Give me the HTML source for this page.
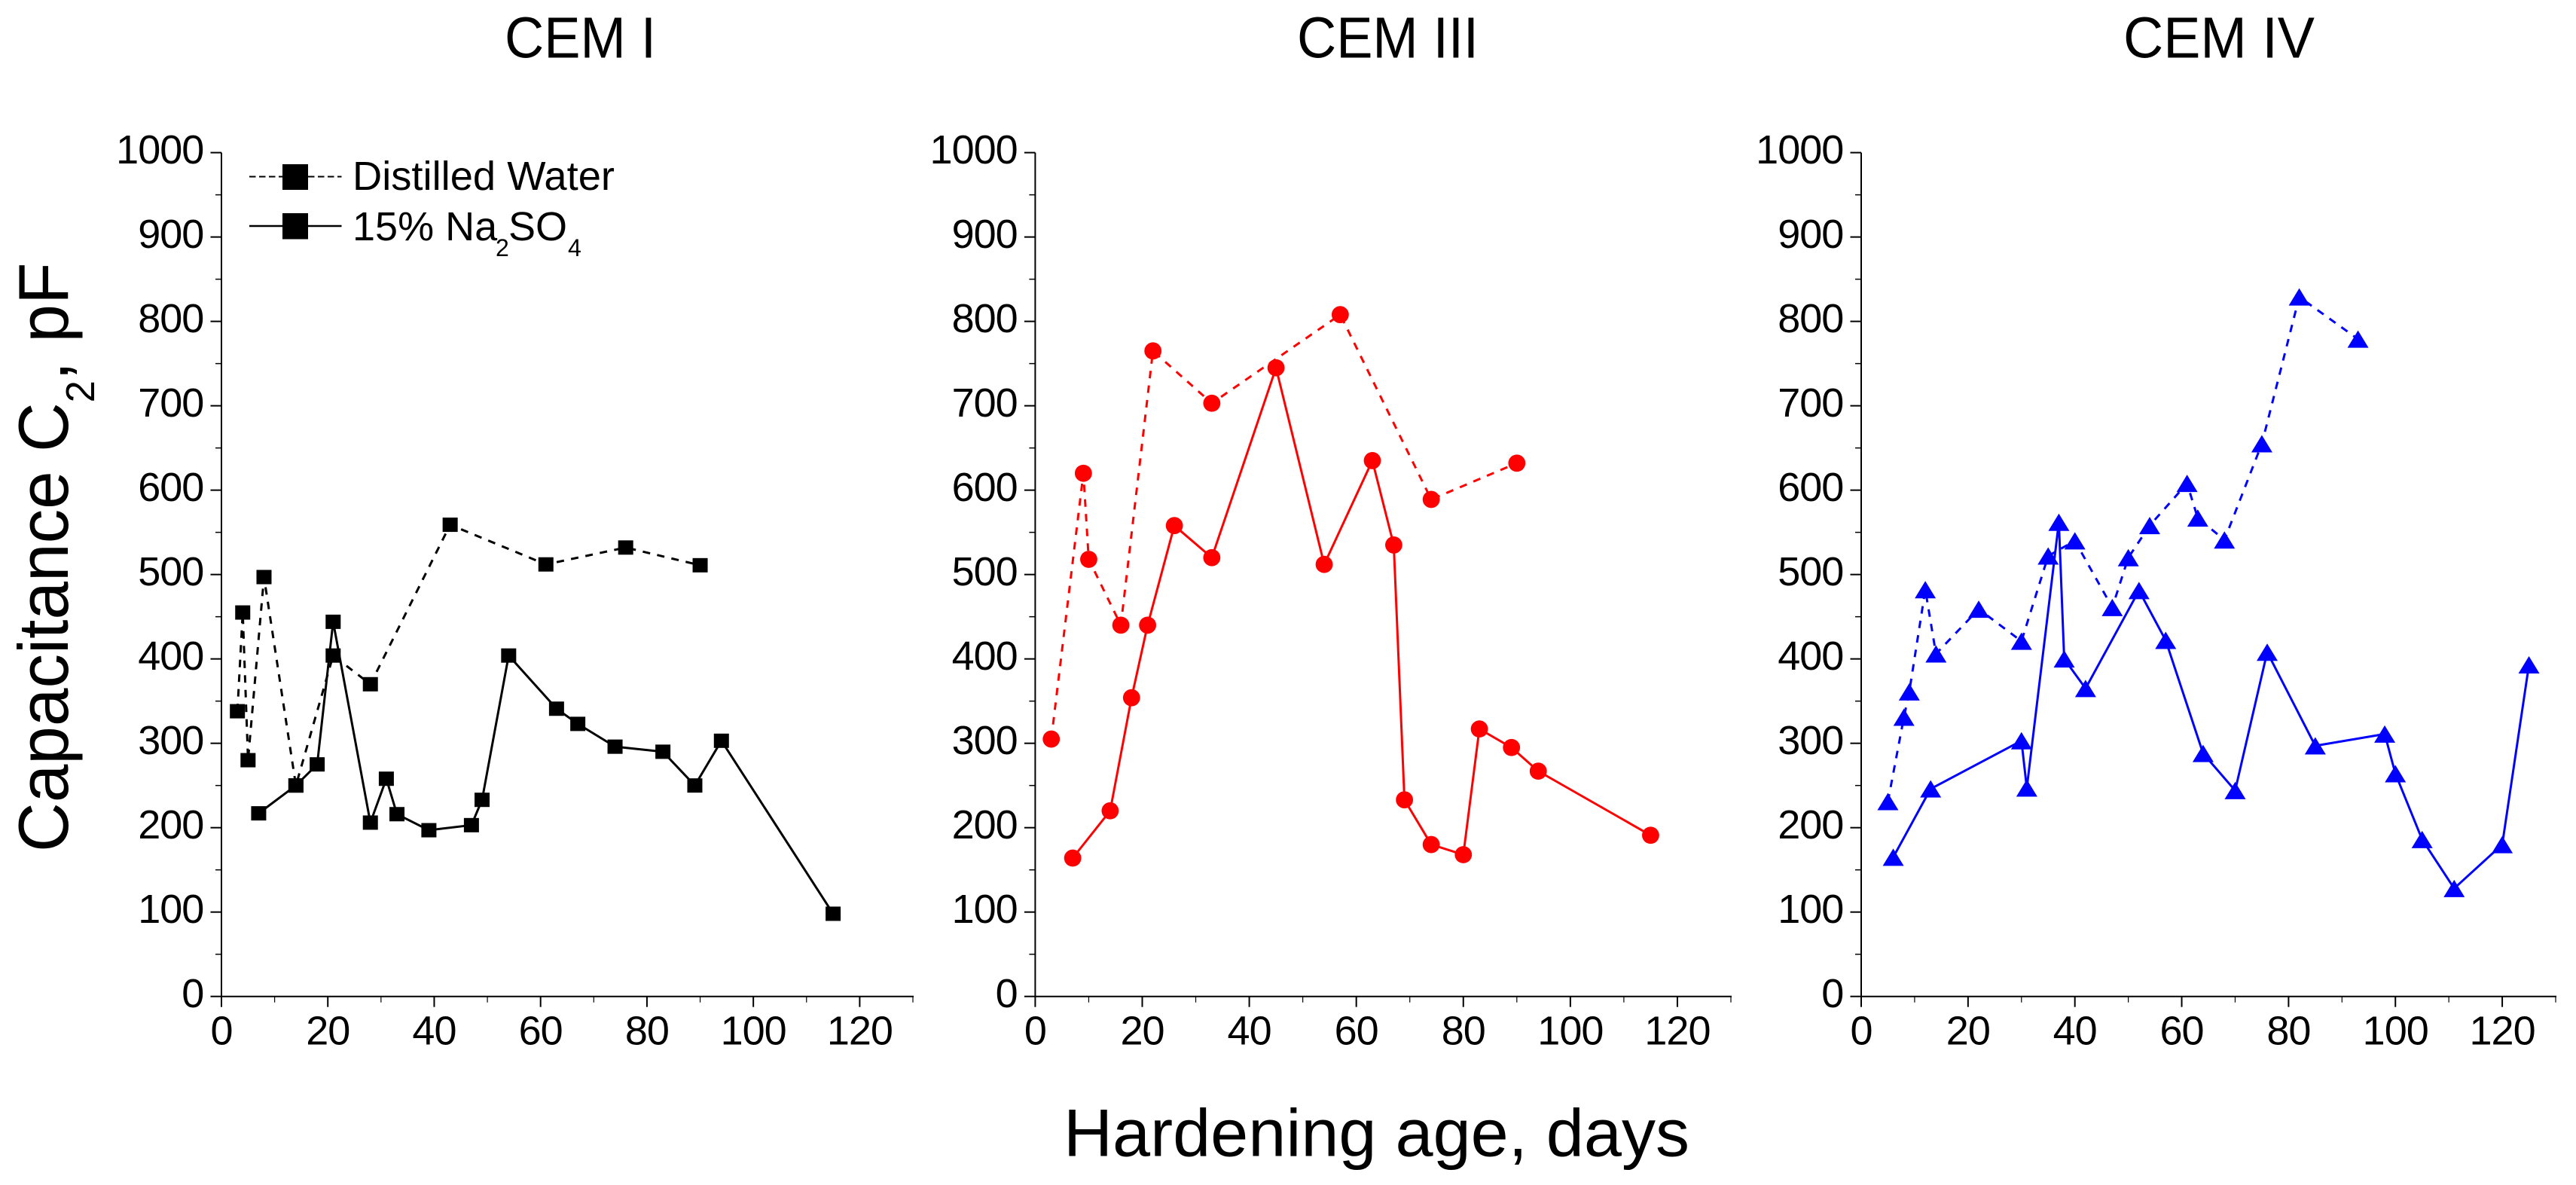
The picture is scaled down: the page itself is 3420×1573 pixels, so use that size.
<!DOCTYPE html>
<html lang="en">
<head>
<meta charset="utf-8">
<title>Capacitance C2 versus hardening age</title>
<style>
  html, body { margin: 0; padding: 0; background: #fff; }
  #chart { display: block; width: 3420px; height: 1573px; }
  text { font-family: "Liberation Sans", Arial, sans-serif; fill: #000; }
</style>
</head>
<body>
<svg id="chart" xmlns="http://www.w3.org/2000/svg" width="3420" height="1573" viewBox="0 0 3420 1573">
  <rect x="0" y="0" width="3420" height="1573" fill="#fff"/>

  <text x="670" y="76.5" font-size="77" textLength="201" lengthAdjust="spacingAndGlyphs">CEM I</text>
  <text x="1722" y="76.5" font-size="77" textLength="241" lengthAdjust="spacingAndGlyphs">CEM III</text>
  <text x="2819" y="76.5" font-size="77" textLength="254" lengthAdjust="spacingAndGlyphs">CEM IV</text>

  <text transform="translate(90,1131) rotate(-90) scale(0.973,1)" font-size="93.5">Capacitance C<tspan font-size="54" dy="35">2</tspan><tspan dy="-35">, pF</tspan></text>
  <text x="1412" y="1534.5" font-size="89" textLength="831" lengthAdjust="spacingAndGlyphs">Hardening age, days</text>

  <g id="panels"></g>

  <g>
    <g>
      <line x1="331" y1="234.5" x2="453.5" y2="234.5" stroke="#000" stroke-width="2" stroke-dasharray="8.5 4.5"/>
      <rect x="375" y="218" width="34" height="34" fill="#000"/>
      <text x="468" y="252" font-size="54" textLength="348" lengthAdjust="spacingAndGlyphs">Distilled Water</text>
    </g>
    <g>
      <line x1="331" y1="300" x2="453.5" y2="300" stroke="#000" stroke-width="2.5"/>
      <rect x="375" y="283" width="34" height="34.5" fill="#000"/>
      <text x="468" y="319" font-size="54">15% Na<tspan font-size="32" x="658" dy="21">2</tspan><tspan x="675" dy="-21">SO</tspan><tspan font-size="32" x="754" dy="21">4</tspan></text>
    </g>
  </g>
</svg>

<script>
// Shared tick labels
const xTickLabels = [0, 20, 40, 60, 80, 100, 120];
const xMinorTicks = [10, 30, 50, 70, 90, 110, 130];
const yTickLabels = [0, 100, 200, 300, 400, 500, 600, 700, 800, 900, 1000];
const yMinorTicks = [50, 150, 250, 350, 450, 550, 650, 750, 850, 950];

// CEM I
const cem1WaterDays = [3, 4, 5, 8, 14, 21, 28, 43, 61, 76, 90];
const cem1WaterValues = [338, 455, 280, 497, 250, 404, 370, 559, 512, 532, 511];
const cem1SulfateDays = [7, 14, 18, 21, 28, 31, 33, 39, 47, 49, 54, 63, 67, 74, 83, 89, 94, 115];
const cem1SulfateValues = [217, 250, 275, 444, 206, 258, 216, 197, 203, 233, 404, 341, 323, 296, 290, 250, 303, 98];

// CEM III
const cem3WaterDays = [3, 9, 10, 16, 22, 33, 57, 74, 90];
const cem3WaterValues = [305, 620, 518, 440, 765, 703, 808, 589, 632];
const cem3SulfateDays = [7, 14, 18, 21, 26, 33, 45, 54, 63, 67, 69, 74, 80, 83, 89, 94, 115];
const cem3SulfateValues = [164, 220, 354, 440, 558, 520, 745, 512, 635, 535, 233, 180, 168, 317, 295, 267, 191];

// CEM IV
const cem4WaterDays = [5, 8, 9, 12, 14, 22, 30, 35, 40, 47, 50, 54, 61, 63, 68, 75, 82, 93];
const cem4WaterValues = [231, 331, 361, 482, 406, 459, 421, 522, 540, 461, 520, 558, 608, 567, 541, 655, 829, 779];
const cem4SulfateDays = [6, 13, 30, 31, 37, 38, 42, 52, 57, 64, 70, 76, 85, 98, 100, 105, 111, 120, 125];
const cem4SulfateValues = [165, 246, 303, 247, 562, 400, 365, 481, 422, 288, 244, 408, 297, 311, 264, 186, 128, 180, 393];

const SVG_NS = 'http://www.w3.org/2000/svg';
const Y_ZERO = 1322.7;
const Y_TOP = 202.6;
const X_MAX = 130;
const Y_MAX = 1000;

function yScale(value) {
  return Y_ZERO - (value / Y_MAX) * (Y_ZERO - Y_TOP);
}

function makeXScale(left, right) {
  return function (day) {
    return left + (day / X_MAX) * (right - left);
  };
}

function svgEl(tag, attrs, parent) {
  const el = document.createElementNS(SVG_NS, tag);
  Object.keys(attrs).forEach(function (key) {
    el.setAttribute(key, attrs[key]);
  });
  parent.appendChild(el);
  return el;
}

function drawMarker(shape, cx, cy, color, parent) {
  let el;
  if (shape === 'square') {
    el = svgEl('rect', { x: cx - 10, y: cy - 9.5, width: 20, height: 19, fill: color }, parent);
  } else if (shape === 'circle') {
    el = svgEl('circle', { cx: cx, cy: cy, r: 11.4, fill: color }, parent);
  } else {
    const pts = [[cx, cy - 11.5], [cx + 14, cy + 11.5], [cx - 14, cy + 11.5]]
      .map(function (p) { return p.join(','); }).join(' ');
    el = svgEl('polygon', { points: pts, fill: color }, parent);
  }
  return el;
}

function drawSeries(days, values, xScale, color, shape, dashed, seriesName, parent) {
  const group = svgEl('g', {}, parent);
  
  

  const pts = days.map(function (d, i) { return xScale(d) + ',' + yScale(values[i]); }).join(' ');
  const line = svgEl('polyline', {
    points: pts,
    fill: 'none',
    stroke: color,
    'stroke-width': 3,
    'stroke-linejoin': 'round'
  }, group);
  if (dashed) {
    line.setAttribute('stroke-dasharray', '10 9.5');
  }
  
  

  days.forEach(function (d, i) {
    const marker = drawMarker(shape, xScale(d), yScale(values[i]), color, group);
    
    
  });
}

function drawAxes(left, right, slug, parent) {
  const xScale = makeXScale(left, right);
  const axes = svgEl('g', { stroke: '#000' }, parent);
  
  

  const yLine = svgEl('line', { x1: left, y1: Y_TOP, x2: left, y2: Y_ZERO, 'stroke-width': 2 }, axes);
  
  

  const xLine = svgEl('line', { x1: left, y1: Y_ZERO, x2: right + 1, y2: Y_ZERO, 'stroke-width': 2 }, axes);
  
  

  yTickLabels.forEach(function (v) {
    const tick = svgEl('line', { x1: left - 14.5, y1: yScale(v), x2: left, y2: yScale(v), 'stroke-width': 2 }, axes);
    
    
    const label = svgEl('text', {
      x: left - 23.7, y: yScale(v) + 14.5, 'font-size': 54, 'letter-spacing': -1, 'text-anchor': 'end', stroke: 'none'
    }, axes);
    label.textContent = String(v);
    
    
  });

  yMinorTicks.forEach(function (v) {
    const tick = svgEl('line', { x1: left - 8, y1: yScale(v), x2: left, y2: yScale(v), 'stroke-width': 1.5 }, axes);
    
    
  });

  xTickLabels.forEach(function (d) {
    const tick = svgEl('line', { x1: xScale(d), y1: Y_ZERO, x2: xScale(d), y2: Y_ZERO + 14, 'stroke-width': 2 }, axes);
    
    
    const label = svgEl('text', {
      x: xScale(d), y: 1386.7, 'font-size': 54, 'letter-spacing': -1, 'text-anchor': 'middle', stroke: 'none'
    }, axes);
    label.textContent = String(d);
    
    
  });

  xMinorTicks.forEach(function (d) {
    const tick = svgEl('line', { x1: xScale(d), y1: Y_ZERO, x2: xScale(d), y2: Y_ZERO + 8, 'stroke-width': 1.2 }, axes);
    
    
  });

  return xScale;
}

const root = document.getElementById('panels');

function drawPanel(slug, left, right, color, shape, waterDays, waterValues, sulfateDays, sulfateValues) {
  const panel = svgEl('g', {}, root);
  
  
  const xScale = drawAxes(left, right, slug, panel);
  drawSeries(waterDays, waterValues, xScale, color, shape, true, slug + '-distilled-water-series', panel);
  drawSeries(sulfateDays, sulfateValues, xScale, color, shape, false, slug + '-sodium-sulfate-series', panel);
}

drawPanel('cem-i', 294, 1212, '#000', 'square', cem1WaterDays, cem1WaterValues, cem1SulfateDays, cem1SulfateValues);
drawPanel('cem-iii', 1374.4, 2298, '#ff0000', 'circle', cem3WaterDays, cem3WaterValues, cem3SulfateDays, cem3SulfateValues);
drawPanel('cem-iv', 2471, 3393, '#0000ff', 'triangle', cem4WaterDays, cem4WaterValues, cem4SulfateDays, cem4SulfateValues);
</script>
</body>
</html>
